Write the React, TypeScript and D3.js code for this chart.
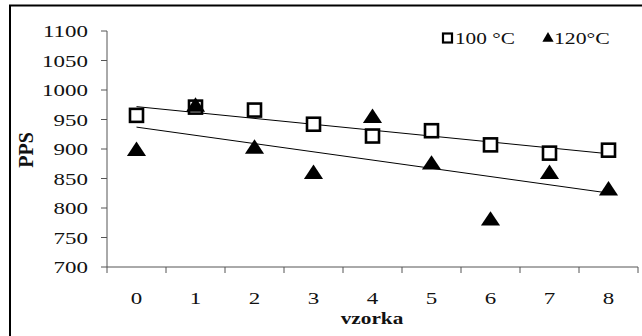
import React from 'react'
import * as d3 from 'd3'

const samples = ['0', '1', '2', '3', '4', '5', '6', '7', '8']
const pps100 = [957, 971, 966, 942, 922, 931, 907, 893, 898]
const pps120 = [898, 973, 902, 859, 954, 875, 780, 859, 831]
const yTicks = [700, 750, 800, 850, 900, 950, 1000, 1050, 1100]

const W = 642
const H = 336
const left = 107
const right = 638
const top = 31
const bottom = 267
const FONT = '"Liberation Serif", "Times New Roman", serif'
const SX = 1.35

const x = d3.scaleBand<string>().domain(samples).range([left, right])
const y = d3.scaleLinear().domain([700, 1100]).range([bottom, top])
const cx = (s: string) => (x(s) || 0) + x.bandwidth() / 2

// least squares trend line over the sample index
const trend = (vals: number[]) => {
  const xs = vals.map((_, i) => i)
  const mx = d3.mean(xs) || 0
  const my = d3.mean(vals) || 0
  const sxy = d3.sum(xs, (xi, i) => (xi - mx) * (vals[i] - my))
  const sxx = d3.sum(xs, (xi) => (xi - mx) ** 2)
  const b = sxy / sxx
  const a = my - b * mx
  return samples.map((s, i) => [cx(s), y(a + b * i)] as [number, number])
}

const Txt = ({ x, y, sx = SX, children, anchor = 'middle', size = 17, bold = false }: any) => (
  <text
    transform={`translate(${x},${y}) scale(${sx},1)`}
    textAnchor={anchor}
    fontSize={size}
    fontWeight={bold ? 'bold' : 'normal'}
    fontFamily={FONT}
    fill="#111"
  >
    {children}
  </text>
)

const tri = d3.symbol(d3.symbolTriangle, 120)()
const triSmall = d3.symbol(d3.symbolTriangle, 55)()

export default function App() {
  const line = d3.line()
  const t100 = trend(pps100)
  const t120 = trend(pps120)
  return (
    <svg width={W} height={H} style={{ position: 'absolute', left: 0, top: 0 }}>
      <rect x={0} y={0} width={W} height={H} fill="#fff" />
      <rect x={10} y={5.5} width={W + 10} height={H + 10} fill="none" stroke="#000" strokeWidth={2} />

      {/* y axis */}
      <line x1={left} x2={left} y1={top} y2={bottom} stroke="#555" />
      {yTicks.map((t) => (
        <g key={t}>
          <line x1={left - 6} x2={left} y1={y(t)} y2={y(t)} stroke="#555" />
          <Txt x={88} y={y(t) + 6} anchor="end">
            {t}
          </Txt>
        </g>
      ))}

      {/* x axis */}
      <line x1={left} x2={right} y1={bottom} y2={bottom} stroke="#555" />
      {[...samples.map((s) => x(s) || 0), right].map((p, i) => (
        <line key={i} x1={p} x2={p} y1={bottom} y2={bottom + 6} stroke="#555" />
      ))}
      {samples.map((s) => (
        <Txt key={s} x={cx(s)} y={bottom + 37}>
          {s}
        </Txt>
      ))}

      <Txt x={372} y={324} bold sx={1.25}>
        vzorka
      </Txt>
      <text
        transform="translate(33,150) rotate(-90)"
        textAnchor="middle"
        fontSize={20}
        fontWeight="bold"
        fontFamily={FONT}
        fill="#111"
      >
        PPS
      </text>

      {/* trend lines */}
      <path d={line([t100[0], t100[8]]) || ''} stroke="#000" fill="none" strokeWidth={1} />
      <path d={line([t120[0], t120[8]]) || ''} stroke="#000" fill="none" strokeWidth={1} />

      {/* markers */}
      {pps100.map((v, i) => (
        <rect
          key={'s' + i}
          x={cx(samples[i]) - 6.5}
          y={y(v) - 6.5}
          width={13}
          height={13}
          fill="#fff"
          stroke="#000"
          strokeWidth={2.6}
        />
      ))}
      {pps120.map((v, i) => (
        <path key={'t' + i} d={tri || ''} transform={`translate(${cx(samples[i])},${y(v) + 1}) scale(1.15,1)`} fill="#000" />
      ))}

      {/* legend */}
      <rect x={443} y={33.5} width={9} height={9} fill="#fff" stroke="#000" strokeWidth={2.2} />
      <Txt x={455} y={44} anchor="start" sx={1.25}>
        100 °C
      </Txt>
      <path d={triSmall || ''} transform="translate(548,38.5)" fill="#000" />
      <Txt x={554} y={44} anchor="start" sx={1.28}>
        120°C
      </Txt>
    </svg>
  )
}
